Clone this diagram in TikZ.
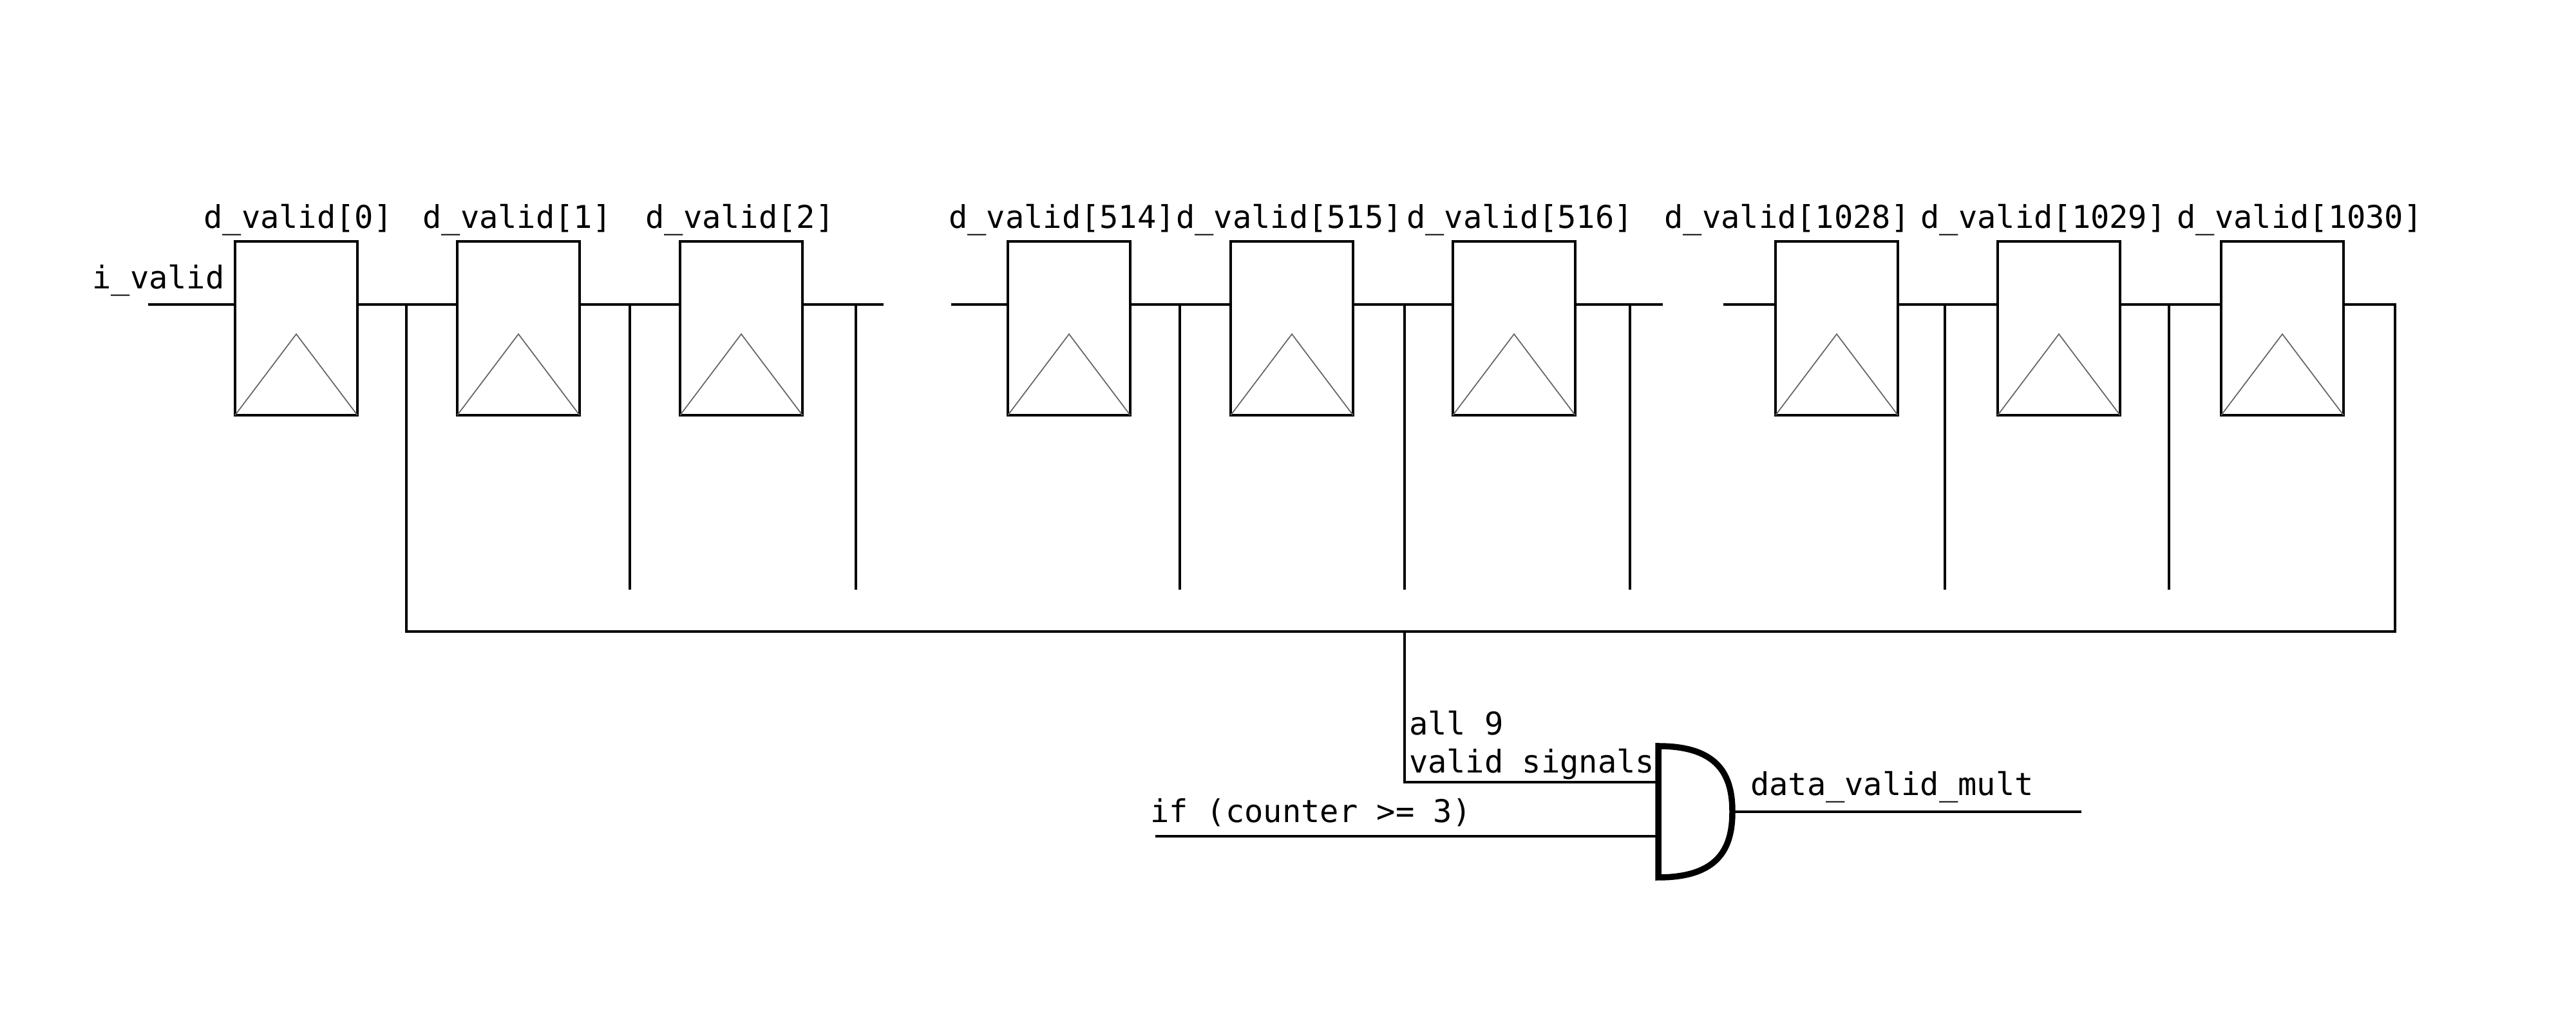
\documentclass[tikz,border=0pt]{standalone}
\usepackage{fontspec}
\setmonofont{DejaVu Sans Mono}
\usepackage{tikz}
\usetikzlibrary{calc}
\tikzstyle{flop} = [draw=black, line width=0.9pt, minimum width=1.90cm, minimum height=2.70cm, inner sep=0pt, outer sep=0pt]
\tikzstyle{sig} = [font=\ttfamily\fontsize{13.86}{16.8}\selectfont, inner sep=0pt, outer sep=0pt]
\tikzstyle{wire} = [line width=1.35pt, black]
\tikzstyle{drop} = [line width=1.05pt, black]
\tikzstyle{clk} = [line width=0.5pt, black!60]
\tikzstyle{andgate} = [minimum width=1.15cm, minimum height=2.04cm, inner sep=0pt, outer sep=0pt]

\begin{document}
\begin{tikzpicture}
\useasboundingbox (0,0) rectangle (40,16);
\coordinate (row) at (0,11.27);

% flip flops
\node[flop] (ff0) at (4.60,10.90) {};
\node[flop] (ff1) at (8.05,10.90) {};
\node[flop] (ff2) at (11.51,10.90) {};
\node[flop] (ff514) at (16.60,10.90) {};
\node[flop] (ff515) at (20.06,10.90) {};
\node[flop] (ff516) at (23.51,10.90) {};
\node[flop] (ff1028) at (28.52,10.90) {};
\node[flop] (ff1029) at (31.97,10.90) {};
\node[flop] (ff1030) at (35.44,10.90) {};

% clock triangles
\draw[clk] (ff0.south west) -- ($(ff0.south)+(0,1.26)$) -- (ff0.south east);
\draw[clk] (ff1.south west) -- ($(ff1.south)+(0,1.26)$) -- (ff1.south east);
\draw[clk] (ff2.south west) -- ($(ff2.south)+(0,1.26)$) -- (ff2.south east);
\draw[clk] (ff514.south west) -- ($(ff514.south)+(0,1.26)$) -- (ff514.south east);
\draw[clk] (ff515.south west) -- ($(ff515.south)+(0,1.26)$) -- (ff515.south east);
\draw[clk] (ff516.south west) -- ($(ff516.south)+(0,1.26)$) -- (ff516.south east);
\draw[clk] (ff1028.south west) -- ($(ff1028.south)+(0,1.26)$) -- (ff1028.south east);
\draw[clk] (ff1029.south west) -- ($(ff1029.south)+(0,1.26)$) -- (ff1029.south east);
\draw[clk] (ff1030.south west) -- ($(ff1030.south)+(0,1.26)$) -- (ff1030.south east);

% labels
\node[sig,anchor=base] (name0) at (4.63,12.45) {d\_valid[0]};
\node[sig,anchor=base] (name1) at (8.03,12.45) {d\_valid[1]};
\node[sig,anchor=base] (name2) at (11.49,12.45) {d\_valid[2]};
\node[sig,anchor=base] (name514) at (16.49,12.45) {d\_valid[514]};
\node[sig,anchor=base] (name515) at (20.02,12.45) {d\_valid[515]};
\node[sig,anchor=base] (name516) at (23.60,12.45) {d\_valid[516]};
\node[sig,anchor=base] (name1028) at (27.75,12.45) {d\_valid[1028]};
\node[sig,anchor=base] (name1029) at (31.73,12.45) {d\_valid[1029]};
\node[sig,anchor=base] (name1030) at (35.71,12.45) {d\_valid[1030]};
\node[sig,anchor=base] (ivalid) at (2.46,11.51) {i\_valid};

% free ends of the chain
\coordinate (in0) at (2.30,11.27);
\coordinate (out2) at (13.72,11.27);
\coordinate (in514) at (14.77,11.27);
\coordinate (out516) at (25.82,11.27);
\coordinate (in1028) at (26.76,11.27);

% tap points
\coordinate (tap0) at (6.31,11.29);
\coordinate (tap1) at (9.78,11.29);
\coordinate (tap2) at (13.29,11.29);
\coordinate (tap514) at (18.32,11.29);
\coordinate (tap515) at (21.81,11.29);
\coordinate (tap516) at (25.31,11.29);
\coordinate (tap1028) at (30.20,11.29);
\coordinate (tap1029) at (33.68,11.29);
\coordinate (tap1030) at (37.19,11.29);
\coordinate (end1) at (9.78,6.84);
\coordinate (end2) at (13.29,6.84);
\coordinate (end514) at (18.32,6.84);
\coordinate (end515) at (21.81,6.84);
\coordinate (end516) at (25.31,6.84);
\coordinate (end1028) at (30.20,6.84);
\coordinate (end1029) at (33.68,6.84);
\coordinate (busleft) at (6.31,6.19);
\coordinate (busmid) at (21.81,6.19);
\coordinate (busright) at (37.19,6.19);

% chain
\draw[wire] (in0) -- (ff0.west |- row);
\draw[wire] (ff0.east |- row) -- (ff1.west |- row);
\draw[wire] (ff1.east |- row) -- (ff2.west |- row);
\draw[wire] (ff2.east |- row) -- (out2);
\draw[wire] (in514) -- (ff514.west |- row);
\draw[wire] (ff514.east |- row) -- (ff515.west |- row);
\draw[wire] (ff515.east |- row) -- (ff516.west |- row);
\draw[wire] (ff516.east |- row) -- (out516);
\draw[wire] (in1028) -- (ff1028.west |- row);
\draw[wire] (ff1028.east |- row) -- (ff1029.west |- row);
\draw[wire] (ff1029.east |- row) -- (ff1030.west |- row);
\draw[wire] (ff1030.east |- row) -- (tap1030 |- row);

% taps
\draw[drop] (tap1) -- (end1);
\draw[drop] (tap2) -- (end2);
\draw[drop] (tap514) -- (end514);
\draw[drop] (tap515) -- (end515);
\draw[drop] (tap516) -- (end516);
\draw[drop] (tap1028) -- (end1028);
\draw[drop] (tap1029) -- (end1029);
\draw[wire] (tap0) -- (busleft) -- (busright) -- (tap1030);

% and gate
\node[andgate] (gate) at (26.325,3.39) {};
\draw[line width=2.7pt] (gate.north west)
  .. controls ($(gate.north west)+(.95,0)$) and ($(gate.east)+(0,.55)$) .. (gate.east)
  .. controls ($(gate.east)+(0,-.55)$) and ($(gate.south west)+(.95,0)$) .. (gate.south west)
  -- cycle;
\coordinate (ina) at (21.81,3.85);
\coordinate (inb) at (17.94,3.01);
\coordinate (outq) at (32.32,3.39);
\draw[wire] (busmid) -- (ina) -- (ina -| gate.west);
\draw[wire] (inb) -- (inb -| gate.west);
\draw[wire] (gate.east) -- (outq);

\node[sig,anchor=base west] (allnine) at (21.88,4.58) {all 9};
\node[sig,anchor=base west] (allvalid) at (21.88,3.99) {valid signals};
\node[sig,anchor=base west] (ifcounter) at (17.86,3.22) {if (counter >= 3)};
\node[sig,anchor=base west] (multvalid) at (27.18,3.64) {data\_valid\_mult};
\end{tikzpicture}
\end{document}
